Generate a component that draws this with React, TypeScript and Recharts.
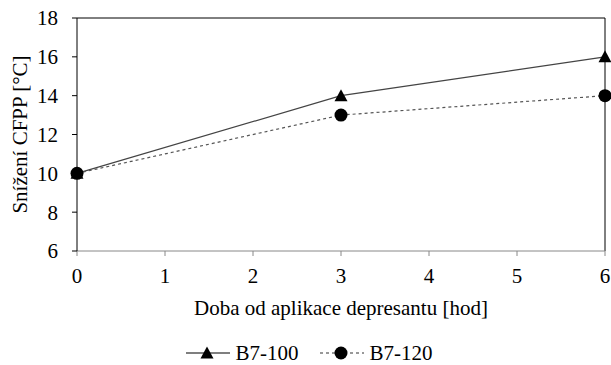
import { CartesianGrid, Legend, Line, LineChart, ReferenceLine, XAxis, YAxis } from 'recharts'

const hours = [0, 3, 6]
const b7_100 = [10, 14, 16]
const b7_120 = [10, 13, 14]
const xTicks = [0, 1, 2, 3, 4, 5, 6]
const yTicks = [6, 8, 10, 12, 14, 16, 18]

const data = hours.map((h, i) => ({ h, b100: b7_100[i], b120: b7_120[i] }))

const font = '"Liberation Serif", "Times New Roman", serif'

function triangleDot(props: any) {
  const { cx, cy, index } = props
  if (cx == null || cy == null) return <g key={`t-${index}`} />
  return (
    <polygon
      key={`t-${index}`}
      points={`${cx},${cy - 6.5} ${cx - 6.5},${cy + 5.5} ${cx + 6.5},${cy + 5.5}`}
      fill="#000"
    />
  )
}

function ChartLegend() {
  const item = (dashed: boolean, name: string) => (
    <div style={{ display: 'flex', alignItems: 'center', margin: '0 10px', height: 16 }}>
      <svg width={46} height={16}>
        <line
          x1={1}
          y1={8}
          x2={45}
          y2={8}
          stroke={dashed ? '#777' : '#555'}
          strokeWidth={1.3}
          strokeDasharray={dashed ? '3 3' : undefined}
        />
        {dashed ? (
          <circle cx={22} cy={8} r={6.5} fill="#000" />
        ) : (
          <polygon points="22,1.5 15.5,13.5 28.5,13.5" fill="#000" />
        )}
      </svg>
      <span style={{ marginLeft: 5 }}>{name}</span>
    </div>
  )
  return (
    <div
      style={{
        display: 'flex',
        justifyContent: 'center',
        paddingTop: 24,
        paddingLeft: 12,
        fontFamily: font,
        fontSize: 21,
        lineHeight: '16px',
        color: '#000',
      }}
    >
      {item(false, 'B7-100')}
      {item(true, 'B7-120')}
    </div>
  )
}

export default function App() {
  return (
    <div style={{ position: 'absolute', left: 0, top: 0, background: '#fff' }}>
      <LineChart
        width={611}
        height={365}
        data={data}
        margin={{ top: 18, right: 6, bottom: 0, left: 0 }}
        style={{ fontFamily: font }}
      >
        <CartesianGrid horizontal={false} vertical={false} />
        <XAxis
          type="number"
          dataKey="h"
          domain={[0, 6]}
          ticks={xTicks}
          height={70}
          tickSize={5}
          tickMargin={12}
          stroke="#888"
          tick={{ fill: '#000', fontSize: 21, fontFamily: font }}
          label={{
            value: 'Doba od aplikace depresantu [hod]',
            position: 'insideBottom',
            offset: 6,
            style: { fill: '#000', fontSize: 21, fontFamily: font },
          }}
        />
        <YAxis
          type="number"
          domain={[6, 18]}
          ticks={yTicks}
          width={77}
          tickSize={5}
          tickMargin={14}
          stroke="#000"
          tick={{ fill: '#000', fontSize: 21, fontFamily: font }}
          label={{
            value: 'Snížení CFPP [°C]',
            angle: -90,
            position: 'insideLeft',
            offset: 20,
            style: { fill: '#000', fontSize: 21, fontFamily: font, textAnchor: 'middle' },
          }}
        />
        <ReferenceLine y={18} stroke="#000" />
        <ReferenceLine x={6} stroke="#000" />
        <Legend verticalAlign="bottom" height={44} content={() => <ChartLegend />} />
        <Line
          dataKey="b100"
          name="B7-100"
          stroke="#444"
          strokeWidth={1.2}
          dot={triangleDot}
          activeDot={false}
          isAnimationActive={false}
        />
        <Line
          dataKey="b120"
          name="B7-120"
          stroke="#555"
          strokeWidth={1.2}
          strokeDasharray="3 3"
          dot={{ r: 6.5, fill: '#000', stroke: '#000', strokeWidth: 0 }}
          activeDot={false}
          isAnimationActive={false}
        />
      </LineChart>
    </div>
  )
}
